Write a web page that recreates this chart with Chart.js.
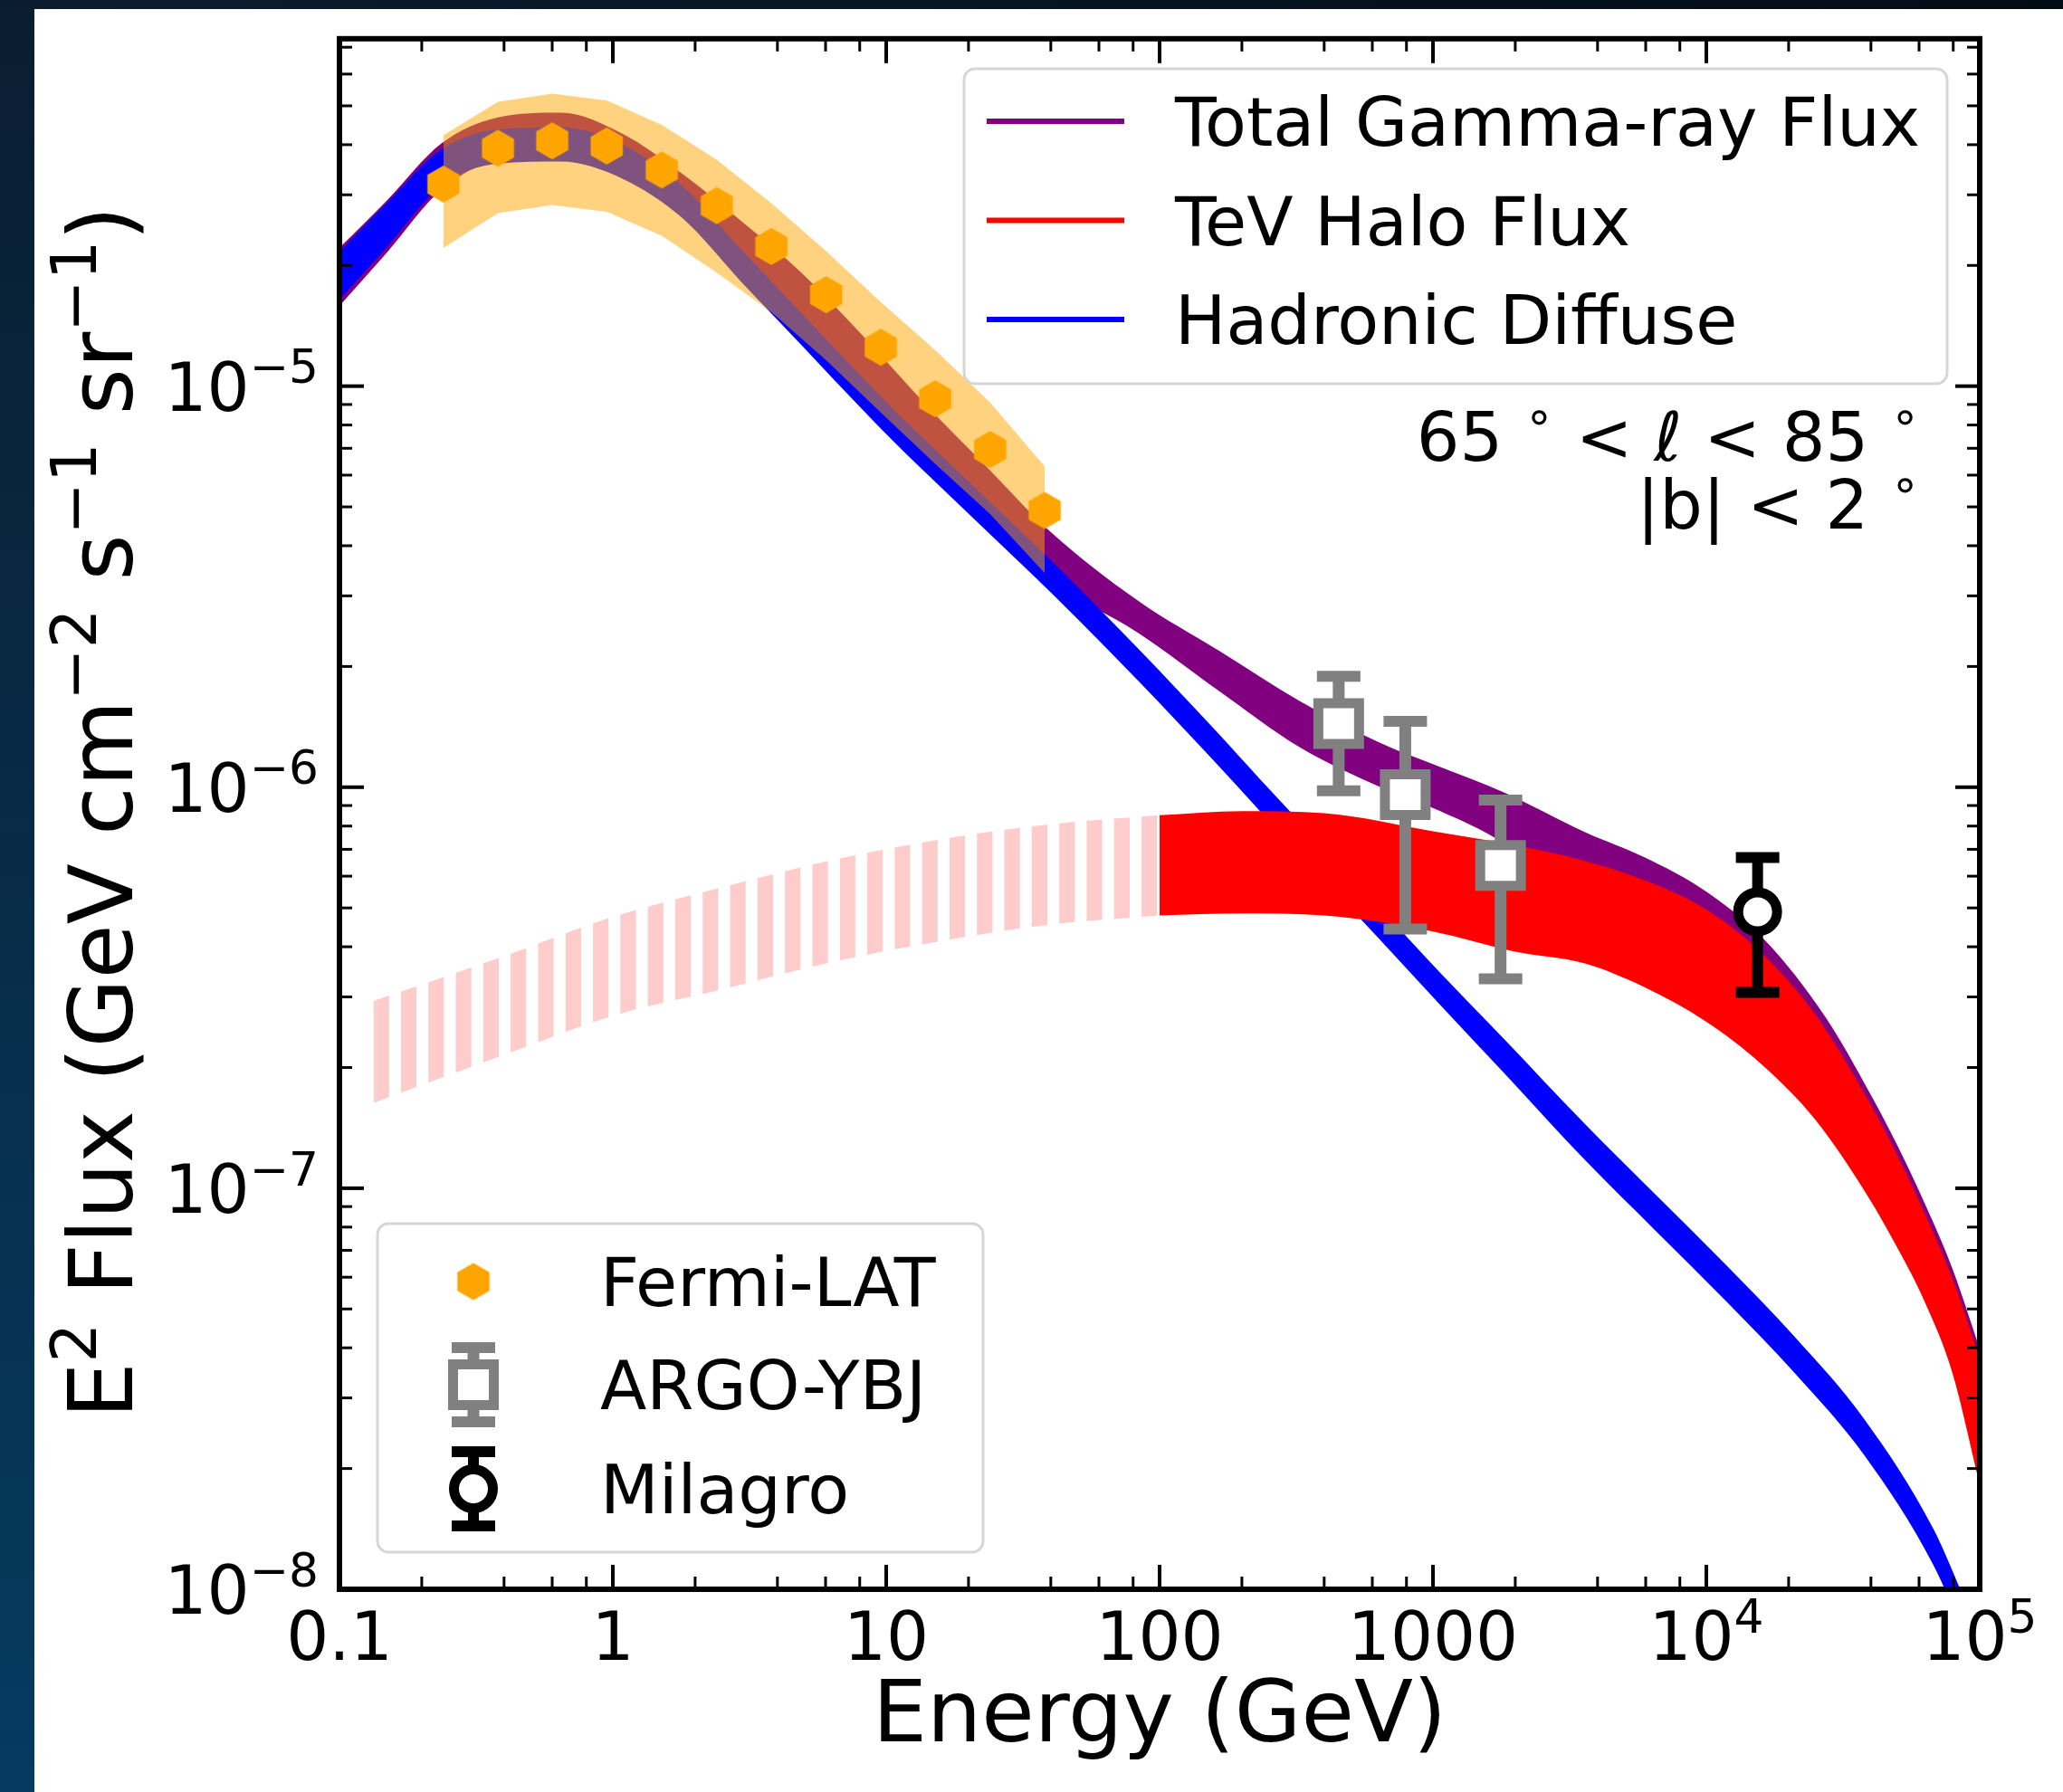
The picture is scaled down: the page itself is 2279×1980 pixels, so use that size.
<!DOCTYPE html>
<html>
<head>
<meta charset="utf-8">
<script src="https://cdn.jsdelivr.net/npm/chart.js@4.4.1/dist/chart.umd.min.js"></script>
<style>
  html, body { margin: 0; padding: 0; background: #07203a; }
  canvas { display: block; }
</style>
</head>
<body>
<canvas id="myChart" width="2279" height="1980"></canvas>
<script>
// energies in GeV, fluxes (E^2 F) in GeV cm^-2 s^-1 sr^-1

// hadronic diffuse band (blue)
var hadE = [0.1, 0.15, 0.236, 0.38, 0.647, 1.08, 1.79, 2.97, 3.84, 4.95, 6.38, 8.23, 10.6, 13.0, 21.4, 42.2, 83.4, 165, 231, 365, 623, 1064, 1816, 3600, 6500, 11750, 21000, 37750, 67750, 90000];
var hadHigh = [2.163e-5, 2.877e-5, 3.890e-5, 4.365e-5, 4.416e-5, 4.009e-5, 3.162e-5, 2.178e-5, 1.811e-5, 1.510e-5, 1.256e-5, 1.047e-5, 8.770e-6, 7.656e-6, 5.534e-6, 3.548e-6, 2.218e-6, 1.355e-6, 1.054e-6, 7.551e-7, 5.105e-7, 3.443e-7, 2.360e-7, 1.445e-7, 9.661e-8, 6.457e-8, 4.266e-8, 2.661e-8, 1.413e-8, 9.120e-9];
var hadLow = [1.641e-5, 2.234e-5, 3.162e-5, 3.589e-5, 3.631e-5, 3.296e-5, 2.630e-5, 1.811e-5, 1.507e-5, 1.256e-5, 1.045e-5, 8.710e-6, 7.295e-6, 6.368e-6, 4.603e-6, 2.951e-6, 1.845e-6, 1.127e-6, 8.770e-7, 6.281e-7, 4.246e-7, 2.864e-7, 1.941e-7, 1.175e-7, 7.852e-8, 5.248e-8, 3.467e-8, 2.163e-8, 1.148e-8, 7.413e-9];

// total gamma-ray flux band (purple)
var totE = [0.1, 0.15, 0.236, 0.38, 0.647, 1.08, 1.79, 2.97, 4.95, 8.23, 13.7, 24, 38.7, 83.4, 165, 325, 643, 1064, 1816, 3570, 5940, 9860, 16400, 27300, 39800, 50100, 63100, 79400, 100000];
var totHigh = [2.213e-5, 2.917e-5, 4.027e-5, 4.677e-5, 4.808e-5, 4.266e-5, 3.388e-5, 2.570e-5, 1.905e-5, 1.334e-5, 9.120e-6, 6.166e-6, 4.416e-6, 2.917e-6, 2.188e-6, 1.641e-6, 1.288e-6, 1.122e-6, 9.705e-7, 7.745e-7, 6.683e-7, 5.521e-7, 4.150e-7, 2.667e-7, 1.718e-7, 1.274e-7, 9.120e-8, 6.310e-8, 3.981e-8];
var totLow = [1.585e-5, 2.163e-5, 3.090e-5, 3.631e-5, 3.673e-5, 3.350e-5, 2.692e-5, 1.862e-5, 1.288e-5, 8.913e-6, 6.310e-6, 4.467e-6, 3.311e-6, 2.427e-6, 1.738e-6, 1.259e-6, 1.000e-6, 8.710e-7, 7.244e-7, 5.012e-7, 3.802e-7, 2.754e-7, 2.089e-7, 1.445e-7, 9.772e-8, 7.413e-8, 5.495e-8, 3.715e-8, 1.995e-8];

// TeV halo band (red), solid above 100 GeV
var haloE = [100, 200, 400, 1000, 2000, 3570, 5940, 10000, 15850, 25100, 39800, 50100, 63100, 79400, 100000];
var haloHigh = [8.511e-7, 8.710e-7, 8.610e-7, 7.762e-7, 7.161e-7, 6.561e-7, 5.861e-7, 4.955e-7, 3.873e-7, 2.704e-7, 1.622e-7, 1.202e-7, 8.610e-8, 5.957e-8, 3.758e-8];
var haloLow = [4.786e-7, 4.842e-7, 4.786e-7, 4.365e-7, 3.890e-7, 3.639e-7, 3.170e-7, 2.600e-7, 2.042e-7, 1.479e-7, 9.333e-8, 7.079e-8, 5.188e-8, 3.467e-8, 1.820e-8];

// TeV halo band below 100 GeV (hatched)
var haloLowE = [0.133, 0.4, 1.0, 2.54, 6.4, 16.1, 40.6, 100];
var haloLowHigh = [2.93e-7, 3.79e-7, 4.75e-7, 5.64e-7, 6.59e-7, 7.43e-7, 8.09e-7, 8.51e-7];
var haloLowLow = [1.63e-7, 2.15e-7, 2.69e-7, 3.14e-7, 3.67e-7, 4.14e-7, 4.55e-7, 4.79e-7];

// Fermi-LAT points and band
var fermiE = [0.24, 0.38, 0.60, 0.95, 1.51, 2.40, 3.80, 6.03, 9.55, 15.1, 24.0, 38.0];
var fermiFlux = [3.19e-5, 3.92e-5, 4.09e-5, 3.97e-5, 3.46e-5, 2.82e-5, 2.23e-5, 1.69e-5, 1.25e-5, 9.3e-6, 6.95e-6, 4.9e-6];
var fermiHigh = [4.22e-5, 5.12e-5, 5.36e-5, 5.16e-5, 4.48e-5, 3.67e-5, 2.86e-5, 2.17e-5, 1.62e-5, 1.23e-5, 9.1e-6, 6.3e-6];
var fermiLow = [2.21e-5, 2.70e-5, 2.83e-5, 2.72e-5, 2.37e-5, 1.92e-5, 1.53e-5, 1.16e-5, 8.6e-6, 6.4e-6, 4.8e-6, 3.42e-6];

// ARGO-YBJ
var argoE = [452, 792, 1767];
var argoFlux = [1.44e-6, 9.58e-7, 6.38e-7];
var argoHigh = [1.89e-6, 1.46e-6, 9.29e-7];
var argoLow = [9.8e-7, 4.43e-7, 3.33e-7];

// Milagro
var milagroE = [15400];
var milagroFlux = [4.89e-7];
var milagroHigh = [6.68e-7];
var milagroLow = [3.08e-7];

// axes
var xTicks = [0.1, 1, 10, 100, 1000, 1e4, 1e5];
var xTickText = [['0.1'], ['1'], ['10'], ['100'], ['1000'], ['10', '4'], ['10', '5']];
var yTicks = [1e-8, 1e-7, 1e-6, 1e-5];
var yTickText = [['10', '−8'], ['10', '−7'], ['10', '−6'], ['10', '−5']];
var xMinorSubs = [2, 4, 6, 8];
var yMinorSubs = [2, 3, 4, 5, 6, 7, 8, 9];

var lineLegendLabels = ['Total Gamma-ray Flux', 'TeV Halo Flux', 'Hadronic Diffuse'];
var lineLegendColors = ['#800080', '#ff0000', '#0000ff'];
var markerLegendLabels = ['Fermi-LAT', 'ARGO-YBJ', 'Milagro'];

var FONT = '"DejaVu Sans", sans-serif';

function pts(xs, ys) {
    return xs.map(function (x, i) { return { x: x, y: ys[i] }; });
}

function band(label, xs, hi, lo, color, order, smooth) {
    var common = {
        borderWidth: 0,
        borderColor: 'rgba(0,0,0,0)',
        pointRadius: 0,
        cubicInterpolationMode: smooth ? 'monotone' : 'default',
        tension: 0
    };
    return [
        Object.assign({ label: label, data: pts(xs, hi), fill: '+1', backgroundColor: color, order: order }, common),
        Object.assign({ label: label + ' (low)', data: pts(xs, lo), fill: false, order: order + 0.5 }, common)
    ];
}

function hexagon(R, color) {
    var c = document.createElement('canvas');
    var s = Math.ceil(2 * R + 2);
    c.width = s; c.height = s;
    var g = c.getContext('2d');
    g.fillStyle = color;
    g.beginPath();
    for (var i = 0; i < 6; i++) {
        var a = Math.PI / 2 + i * Math.PI / 3;
        g.lineTo(s / 2 + R * Math.cos(a), s / 2 + R * Math.sin(a));
    }
    g.closePath();
    g.fill();
    return c;
}

function stripePattern(ctx) {
    var c = document.createElement('canvas');
    c.width = 30; c.height = 4;
    var g = c.getContext('2d');
    g.fillStyle = '#ffcccc';
    g.fillRect(0, 0, 17, 4);
    var p = ctx.createPattern(c, 'repeat');
    p.setTransform(new DOMMatrix([1.01, 0, 0, 1, 18.7, 0]));
    return p;
}

function seg(ctx, x1, y1, x2, y2) {
    ctx.beginPath();
    ctx.moveTo(x1, y1);
    ctx.lineTo(x2, y2);
    ctx.stroke();
}

// text with superscripts, parts: {t, sup, it}
function drawParts(ctx, parts, x, y, align, size) {
    var fonts = parts.map(function (p) {
        return (p.it ? 'italic ' : '') + (p.sup ? size * 0.7 : size) + 'px ' + FONT;
    });
    var widths = parts.map(function (p, i) { ctx.font = fonts[i]; return ctx.measureText(p.t).width; });
    var total = widths.reduce(function (s, w) { return s + w; }, 0);
    var cx = align == 'right' ? x - total : (align == 'center' ? x - total / 2 : x);
    ctx.textAlign = 'left';
    ctx.textBaseline = 'alphabetic';
    parts.forEach(function (p, i) {
        ctx.font = fonts[i];
        ctx.fillText(p.t, cx, p.sup ? y - size * 0.41 : y);
        cx += widths[i];
    });
}

function tickParts(t) {
    var parts = [{ t: t[0] }];
    if (t[1]) parts.push({ t: t[1], sup: true });
    return parts;
}

function roundBox(ctx, x, y, w, h, r) {
    ctx.beginPath();
    ctx.moveTo(x + r, y);
    ctx.arcTo(x + w, y, x + w, y + h, r);
    ctx.arcTo(x + w, y + h, x, y + h, r);
    ctx.arcTo(x, y + h, x, y, r);
    ctx.arcTo(x, y, x + w, y, r);
    ctx.closePath();
    ctx.fillStyle = 'rgba(255,255,255,0.8)';
    ctx.fill();
    ctx.strokeStyle = '#d6d6d6';
    ctx.lineWidth = 3;
    ctx.stroke();
}

function errBar(ctx, x, top, bot, width, color) {
    ctx.strokeStyle = color;
    ctx.lineWidth = width;
    seg(ctx, x, top, x, bot);
    ctx.lineWidth = 12;
    seg(ctx, x - 24, top, x + 24, top);
    seg(ctx, x - 24, bot, x + 24, bot);
}

var background = {
    id: 'background',
    beforeDraw: function (chart) {
        var c = chart.ctx, w = chart.width, h = chart.height;
        c.save();
        var g = c.createLinearGradient(0, 0, 0, h);
        g.addColorStop(0, '#0a1d30');
        g.addColorStop(1, '#053b60');
        c.fillStyle = g;
        c.fillRect(0, 0, w, h);
        var t = c.createLinearGradient(0, 0, w, 0);
        t.addColorStop(0, '#0a1d2f');
        t.addColorStop(1, '#020c15');
        c.fillStyle = t;
        c.fillRect(0, 0, w, 10);
        c.fillStyle = '#ffffff';
        c.fillRect(38, 10, w - 38, h - 10);
        c.restore();
    }
};

var errorBars = {
    id: 'errorBars',
    beforeDatasetDraw: function (chart, args) {
        var ds = chart.data.datasets[args.index];
        if (!ds.errLow) return;
        var c = chart.ctx, xs = chart.scales.x, ys = chart.scales.y;
        c.save();
        ds.data.forEach(function (p, i) {
            errBar(c, xs.getPixelForValue(p.x), ys.getPixelForValue(ds.errHigh[i]),
                ys.getPixelForValue(ds.errLow[i]), ds.errWidth, ds.pointBorderColor);
        });
        c.restore();
    }
};

var axes = {
    id: 'axes',
    afterDatasetsDraw: function (chart) {
        var c = chart.ctx, a = chart.chartArea, xs = chart.scales.x, ys = chart.scales.y;
        c.save();
        c.strokeStyle = '#000';
        c.fillStyle = '#000';

        function xTick(v, len, lw) {
            var px = xs.getPixelForValue(v);
            c.lineWidth = lw;
            seg(c, px, a.bottom, px, a.bottom - len);
            seg(c, px, a.top, px, a.top + len);
        }
        function yTick(v, len, lw) {
            var py = ys.getPixelForValue(v);
            c.lineWidth = lw;
            seg(c, a.left, py, a.left + len, py);
            seg(c, a.right, py, a.right - len, py);
        }
        xTicks.forEach(function (d) {
            xTick(d, 27, 4);
            if (d < xs.max) xMinorSubs.forEach(function (m) { xTick(d * m, 14, 3); });
        });
        yTicks.forEach(function (d) {
            yTick(d, 27, 4);
            yMinorSubs.forEach(function (m) { if (d * m <= ys.max) yTick(d * m, 14, 3); });
        });

        c.lineWidth = 6;
        c.strokeRect(a.left, a.top, a.right - a.left, a.bottom - a.top);

        xTicks.forEach(function (d, i) {
            drawParts(c, tickParts(xTickText[i]), xs.getPixelForValue(d), a.bottom + 78, 'center', 74);
        });
        yTicks.forEach(function (d, i) {
            drawParts(c, tickParts(yTickText[i]), a.left - 23, ys.getPixelForValue(d) + 27, 'right', 74);
        });

        drawParts(c, [{ t: 'Energy (GeV)' }], (a.left + a.right) / 2, 1924, 'center', 95);

        c.save();
        c.translate(146, (a.top + a.bottom) / 2 - 2);
        c.rotate(-Math.PI / 2);
        drawParts(c, [
            { t: 'E' }, { t: '2', sup: true }, { t: ' Flux (GeV cm' }, { t: '−2', sup: true },
            { t: ' s' }, { t: '−1', sup: true }, { t: ' sr' }, { t: '−1', sup: true }, { t: ')' }
        ], 0, 0, 'center', 98);
        c.restore();
        c.restore();
    }
};

var legends = {
    id: 'legends',
    afterDraw: function (chart) {
        var c = chart.ctx;
        c.save();
        // line legend, upper right
        roundBox(c, 1065, 76, 1086, 348, 12);
        lineLegendLabels.forEach(function (lab, i) {
            var y = 134 + i * 109.5;
            c.strokeStyle = lineLegendColors[i];
            c.lineWidth = 6;
            seg(c, 1090, y, 1242, y);
            c.fillStyle = '#000';
            drawParts(c, [{ t: lab }], 1298, y + 27, 'left', 75);
        });

        // sky region
        c.fillStyle = '#000';
        drawParts(c, [{ t: '65' }, { t: ' ' }, { t: '∘', sup: true }, { t: ' < ' }, { t: 'ℓ', it: true },
            { t: ' < 85' }, { t: ' ' }, { t: '∘', sup: true }], 2121, 509, 'right', 75);
        drawParts(c, [{ t: '|b| < 2 ' }, { t: '∘', sup: true }], 2121, 584, 'right', 75);

        // marker legend, lower left
        roundBox(c, 417, 1352, 669, 363, 12);
        var mx = 523;
        var rows = [1416, 1530, 1645];
        c.drawImage(hexMark, mx - hexMark.width / 2, rows[0] - hexMark.height / 2);

        errBar(c, mx, rows[1] - 41, rows[1] + 41, 13, '#808080');
        c.fillStyle = '#fff';
        c.strokeStyle = '#808080';
        c.lineWidth = 11;
        c.beginPath();
        c.rect(mx - 22.5, rows[1] - 22.5, 45, 45);
        c.fill();
        c.stroke();

        errBar(c, mx, rows[2] - 41, rows[2] + 41, 12, '#000');
        c.fillStyle = '#fff';
        c.strokeStyle = '#000';
        c.lineWidth = 11;
        c.beginPath();
        c.arc(mx, rows[2], 21.5, 0, 2 * Math.PI);
        c.fill();
        c.stroke();

        c.fillStyle = '#000';
        markerLegendLabels.forEach(function (lab, i) {
            drawParts(c, [{ t: lab }], 663, rows[i] + 27, 'left', 75);
        });
        c.restore();
    }
};

var ctx = document.getElementById('myChart').getContext('2d');
var hexMark = hexagon(20.5, '#ffa500');
var stripes = stripePattern(ctx);

var datasets = [
    { label: 'Fermi-LAT', data: pts(fermiE, fermiFlux), showLine: false, pointStyle: hexMark, pointRadius: 20, order: 0 },
    {
        label: 'ARGO-YBJ', data: pts(argoE, argoFlux), showLine: false, pointStyle: 'rect', pointRadius: 31.8,
        pointBorderWidth: 11, pointBorderColor: '#808080', pointBackgroundColor: '#ffffff',
        errLow: argoLow, errHigh: argoHigh, errWidth: 13, order: 1
    },
    {
        label: 'Milagro', data: pts(milagroE, milagroFlux), showLine: false, pointStyle: 'circle', pointRadius: 21.5,
        pointBorderWidth: 11, pointBorderColor: '#000000', pointBackgroundColor: '#ffffff',
        errLow: milagroLow, errHigh: milagroHigh, errWidth: 12, order: 2
    }
].concat(
    band('Fermi band', fermiE, fermiHigh, fermiLow, 'rgba(255,165,0,0.5)', 3, false),
    band('TeV Halo Flux', haloE, haloHigh, haloLow, '#ff0000', 5, true),
    band('TeV Halo Flux < 100 GeV', haloLowE, haloLowHigh, haloLowLow, stripes, 5, true),
    band('Hadronic Diffuse', hadE, hadHigh, hadLow, '#0000ff', 7, true),
    band('Total Gamma-ray Flux', totE, totHigh, totLow, '#800080', 9, true)
);

var myChart = new Chart(ctx, {
    type: 'line',
    data: { datasets: datasets },
    options: {
        responsive: false,
        animation: false,
        events: [],
        layout: { padding: { left: 375, top: 40, right: 92, bottom: 224 } },
        scales: {
            x: { type: 'logarithmic', min: 0.1, max: 1e5, display: false, bounds: 'data' },
            y: { type: 'logarithmic', min: 1e-8, max: 7.35e-5, display: false, bounds: 'data' }
        },
        plugins: {
            legend: { display: false },
            tooltip: { enabled: false }
        }
    },
    plugins: [background, errorBars, axes, legends]
});
</script>
</body>
</html>
